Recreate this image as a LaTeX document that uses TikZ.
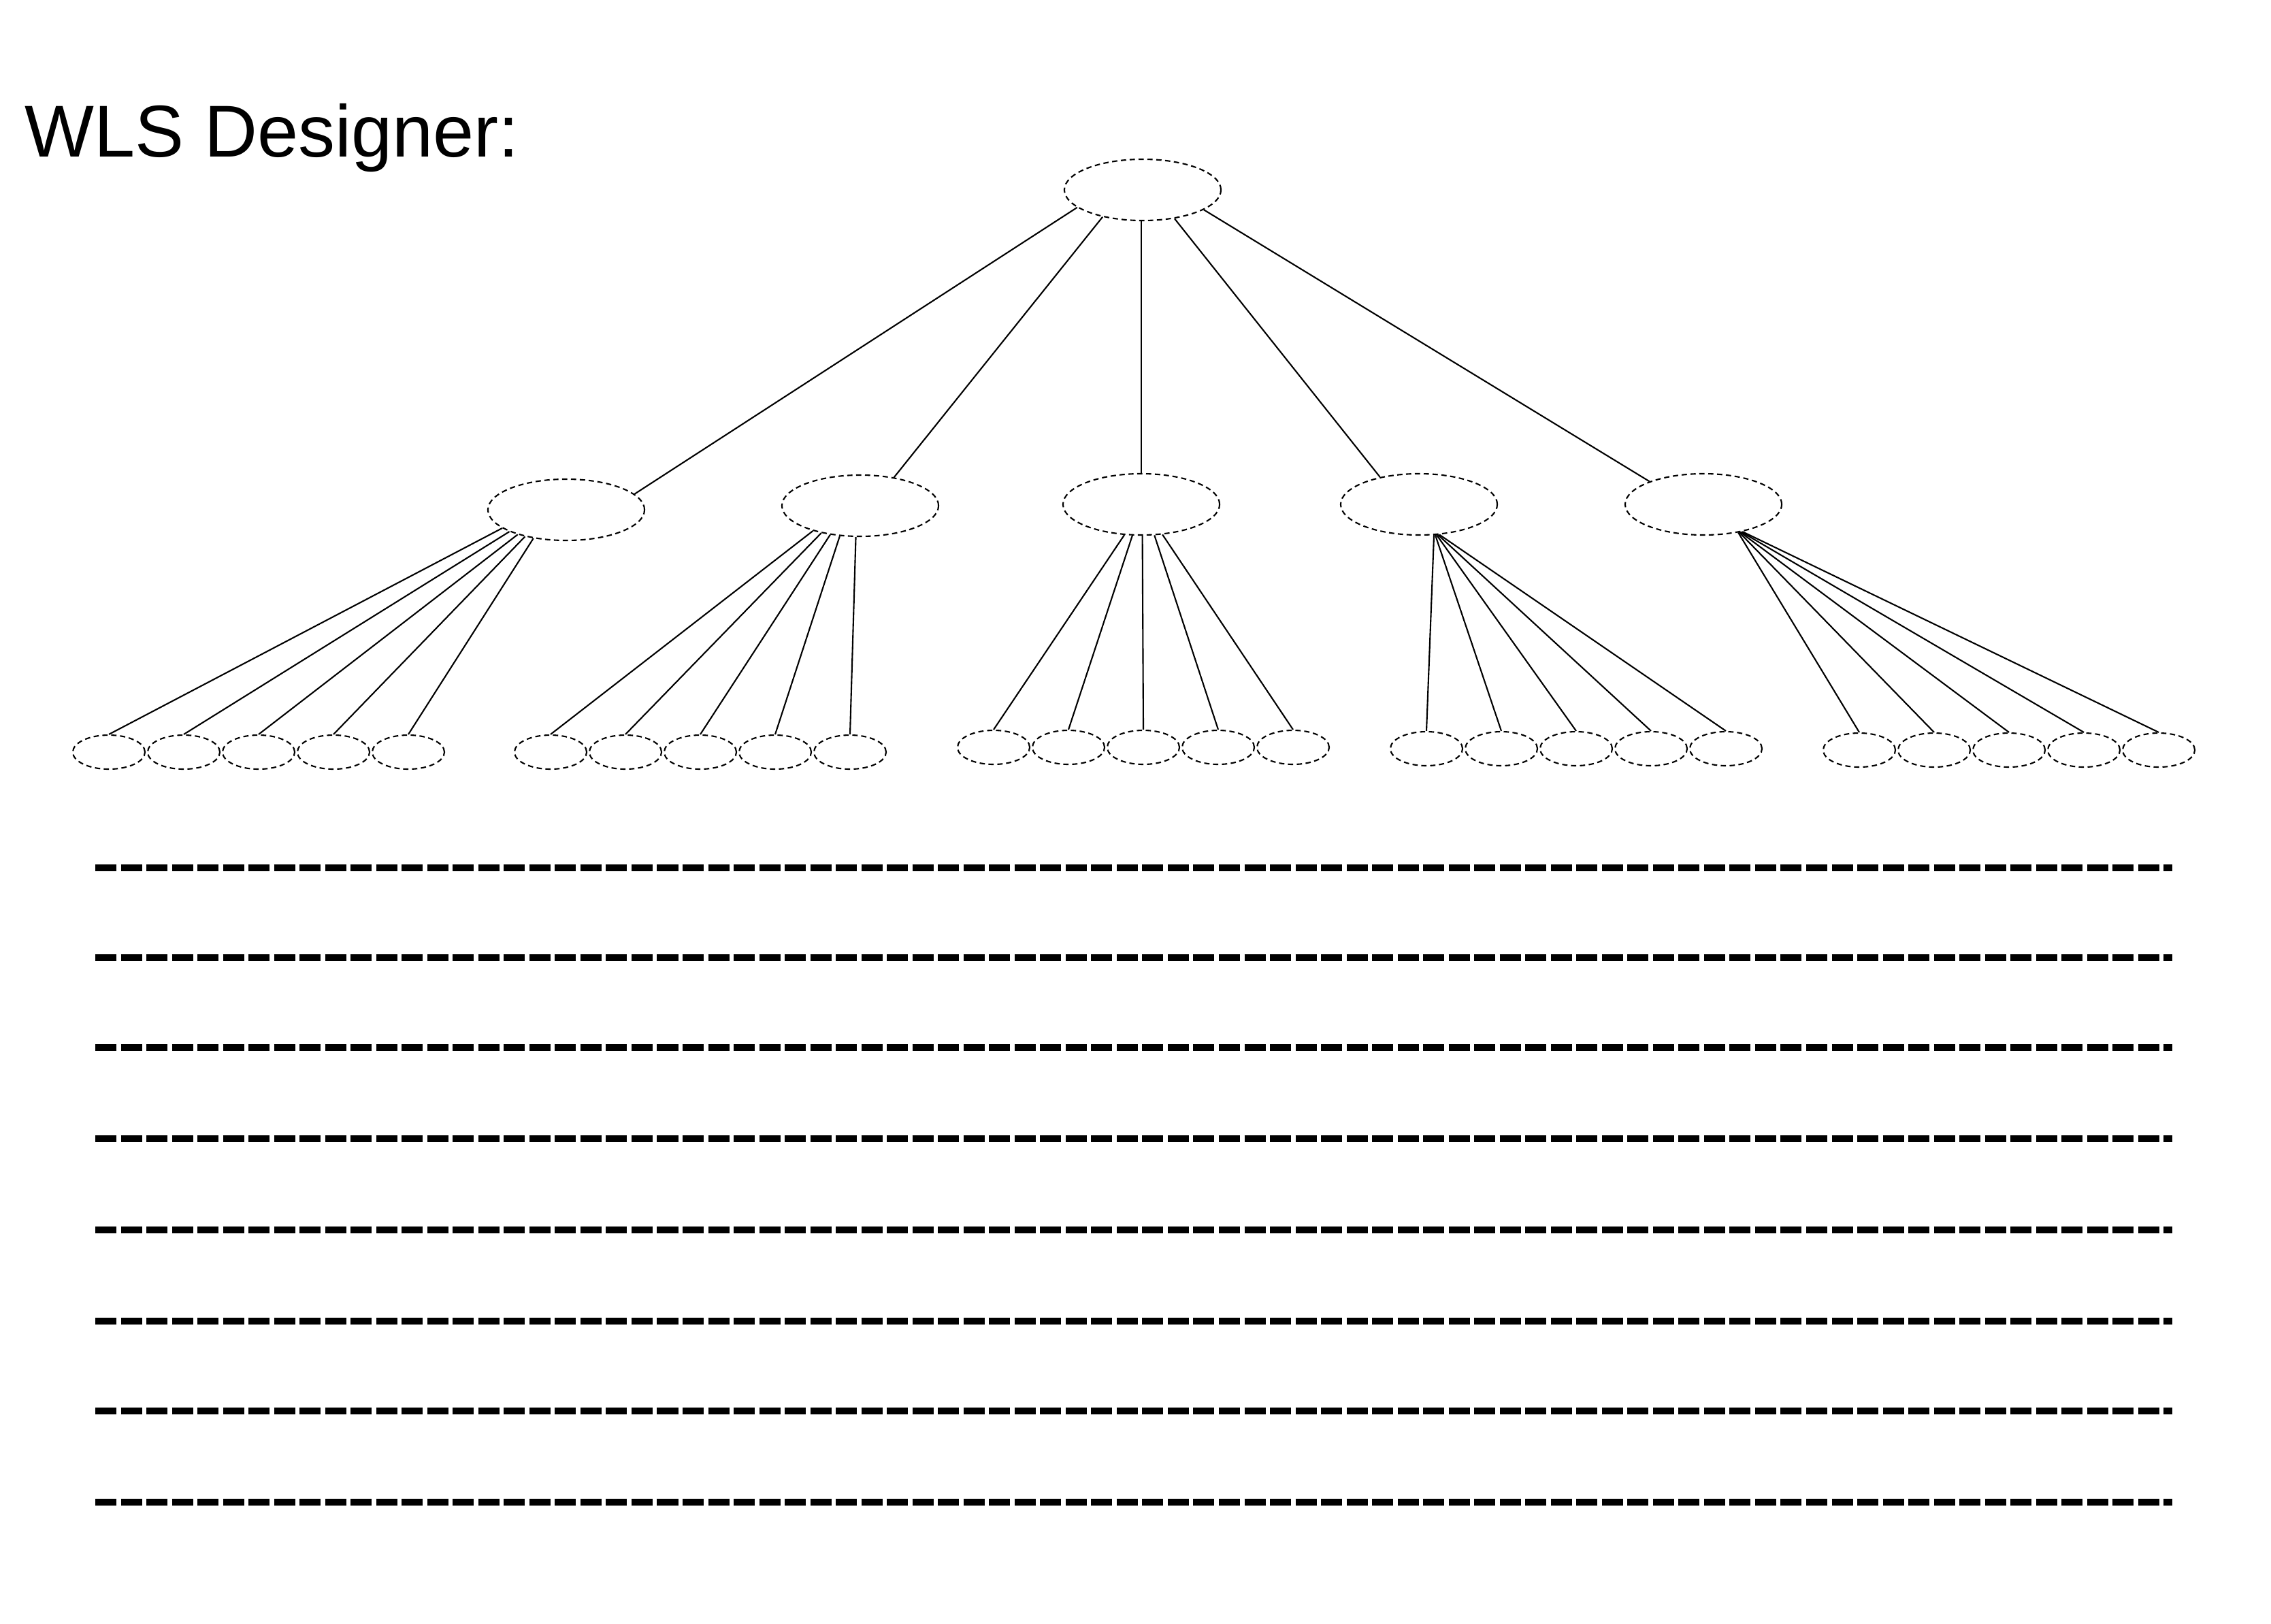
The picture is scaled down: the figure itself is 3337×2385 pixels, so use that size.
\documentclass[tikz,border=0pt]{standalone}
\usepackage{fontspec}
\setmainfont{Liberation Sans}
\usetikzlibrary{shapes.geometric}

\tikzset{
    bigell/.style={ellipse,draw,inner sep=0pt,line width=0.6pt,dash pattern=on 2.2pt off 1.5pt,
        minimum width=2.3cm,minimum height=0.9cm},
    leafell/.style={ellipse,draw,inner sep=0pt,line width=0.6pt,dash pattern=on 2.2pt off 1.5pt,
        minimum width=1.06cm,minimum height=0.5cm},
    link/.style={line width=0.6pt},
    rule/.style={line width=0.1cm,dash pattern=on 0.31cm off 0.065cm}
}

\begin{document}
\begin{tikzpicture}[x=0.01cm,y=-0.01cm]
\useasboundingbox (0,0) rectangle (3337,2385);

\node[anchor=base west,font=\fontsize{30.7}{36}\selectfont,inner sep=0pt] (title) at (36,230) {WLS Designer:};

% top level
\node[bigell] (root) at (1679,279) {};

\node[bigell] (m1) at (832,749) {};
\node[bigell] (m2) at (1264,743) {};
\node[bigell] (m3) at (1677,741) {};
\node[bigell] (m4) at (2085,741) {};
\node[bigell] (m5) at (2503,741) {};

\draw[link] (root.-165)--(m1.13);
\draw[link] (root.-146)--(m2.40);
\draw[link] (m3.north)--(m3.north|-root.south);
\draw[link] (root.-42)--(m4.145);
\draw[link] (root.-18)--(m5.157);

% leaves
\foreach \g/\xo/\yo in {1/160/1105,2/809/1105,3/1460/1098,4/2096/1100,5/2732/1102}{
    \foreach \i in {1,...,5}{
        \node[leafell] (l\g\i) at ({\xo+110*(\i-1)},\yo) {};
    }
}

\foreach \i/\a in {1/-164,2/-159,3/-153,4/-147,5/-139}{
    \draw[link] (m1.\a)--(l1\i.north);
}
\foreach \i/\a in {1/-152,2/-145,3/-136,4/-124,5/-98}{
    \draw[link] (m2.\a)--(l2\i.north);
}
\foreach \i/\a in {1/-119,2/-106,3/-88,4/-67,5/-55}{
    \draw[link] (m3.\a)--(l3\i.north);
}
\foreach \i/\a in {1/-64,2/-62,3/-60,4/-58,5/-56}{
    \draw[link] (m4.\a)--(l4\i.north);
}
\foreach \i/\a in {1/-39,2/-38,3/-37,4/-36,5/-35}{
    \draw[link] (m5.\a)--(l5\i.north);
}

% lines to write on
\foreach \y in {1275,1407,1539,1673,1807,1941,2073,2207}{
    \draw[rule] (140,\y)--(3192,\y);
}
\end{tikzpicture}
\end{document}
